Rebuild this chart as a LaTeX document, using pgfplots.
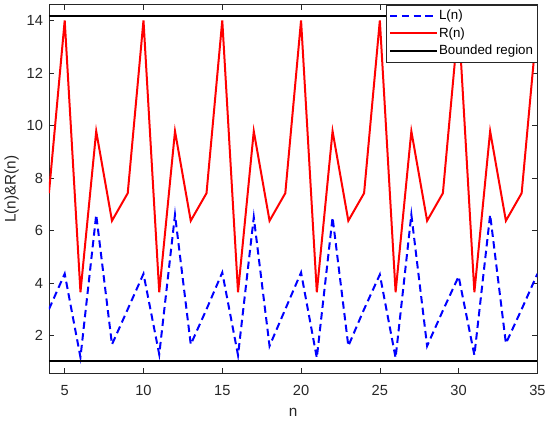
\documentclass[border=0pt]{standalone}
\usepackage{pgfplots}
\pgfplotsset{compat=1.18}
\usepackage{fontspec}
\setmainfont{Liberation Sans}
\definecolor{axgray}{rgb}{0.15,0.15,0.15}
\begin{document}
\begin{tikzpicture}
\begin{axis}[
  scale only axis,
  width=366.75pt, height=277pt,
  xmin=4, xmax=35, ymin=0.55, ymax=14.6,
  xtick={5,10,...,35}, ytick={2,4,...,14},
  tick align=inside, tick pos=both,
  major tick length=4pt,
  axis line style={axgray, line width=0.5pt},
  tick style={axgray, line width=0.5pt},
  ticklabel style={font=\fontsize{11}{13}\selectfont, text=axgray},
  xticklabel style={yshift=-5pt},
  yticklabel style={xshift=-1pt},
  /pgf/number format/assume math mode=true,
  xlabel={n}, ylabel={L(n)\&R(n)},
  label style={font=\fontsize{11.5}{13}\selectfont, text=axgray},
  xlabel style={yshift=-3pt},
  ylabel style={yshift=-1pt},
  legend style={at={(1,1)}, anchor=north east, draw=axgray, line width=0.5pt,
    font=\fontsize{10}{11}\selectfont, inner sep=2pt, row sep=0.6pt,
    nodes={inner sep=1pt, text height=8pt, text depth=2.5pt},
    legend cell align=left},
  legend image code/.code={\draw[#1] (0pt,0pt) -- (35pt,0pt);},
]
\addplot[blue, line width=1.5pt, dash pattern=on 5.5pt off 3.3pt] coordinates {
(4,3.0) (5,4.35) (6,1.17) (7,6.6) (8,1.66) (9,3.0) (10,4.35) (11,1.28) (12,6.6) (13,1.66)
(14,3.0) (15,4.4) (16,1.25) (17,6.5) (18,1.6) (19,3.0) (20,4.4) (21,1.15) (22,6.5) (23,1.6)
(24,3.0) (25,4.32) (26,1.15) (27,6.6) (28,1.6) (29,2.95) (30,4.25) (31,1.25) (32,6.6) (33,1.7)
(34,3.0) (35,4.35)};
\addlegendentry{L(n)}
\addplot[red, line width=1.5pt] coordinates {
(4,7.42) (5,14) (6,3.65) (7,9.78) (8,6.37) (9,7.42) (10,14) (11,3.65) (12,9.78) (13,6.37)
(14,7.42) (15,14) (16,3.65) (17,9.78) (18,6.37) (19,7.42) (20,14) (21,3.65) (22,9.78) (23,6.37)
(24,7.42) (25,14) (26,3.65) (27,9.78) (28,6.37) (29,7.42) (30,14) (31,3.65) (32,9.78) (33,6.37)
(34,7.42) (35,14)};
\addlegendentry{R(n)}
\addplot[black, line width=1.5pt] coordinates {(4,14.15) (35,14.15)};
\addlegendentry{Bounded region}
\addplot[black, line width=1.5pt, forget plot] coordinates {(4,1.02) (35,1.02)};
\end{axis}
\useasboundingbox ([xshift=-36.75pt, yshift=-36.75pt]current axis.south west) rectangle ([xshift=9pt, yshift=3.5pt]current axis.north east);
\end{tikzpicture}
\end{document}
